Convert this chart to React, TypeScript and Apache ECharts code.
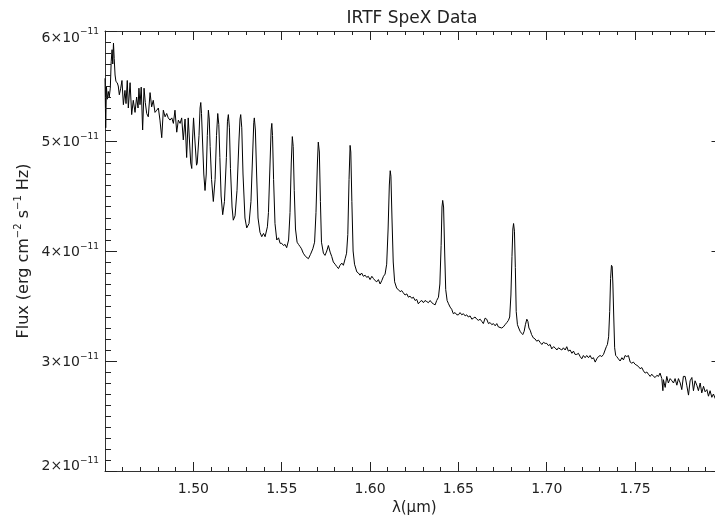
import React, { useEffect, useRef } from "react";
import * as echarts from "echarts";

// Wavelength in micrometres
const wavelengthUm = [
  1.4500, 1.4504, 1.4508, 1.4513, 1.4519, 1.4524, 1.4530, 1.4535, 1.4540, 1.4544,
  1.4548, 1.4552, 1.4557, 1.4562, 1.4569, 1.4575, 1.4581, 1.4589, 1.4596, 1.4604,
  1.4613, 1.4619, 1.4626, 1.4632, 1.4642, 1.4651, 1.4660, 1.4670, 1.4679, 1.4687,
  1.4692, 1.4698, 1.4705, 1.4713, 1.4721, 1.4728, 1.4736, 1.4745, 1.4755, 1.4764,
  1.4773, 1.4783, 1.4793, 1.4802, 1.4811, 1.4821, 1.4830, 1.4840, 1.4849, 1.4858,
  1.4868, 1.4878, 1.4887, 1.4896, 1.4906, 1.4915, 1.4925, 1.4934, 1.4943, 1.4953,
  1.4962, 1.4971, 1.4985, 1.4991, 1.4995, 1.5001, 1.5009, 1.5018, 1.5022, 1.5032,
  1.5038, 1.5042, 1.5046, 1.5052, 1.5059, 1.5066, 1.5073, 1.5079, 1.5085, 1.5090,
  1.5095, 1.5103, 1.5113, 1.5123, 1.5131, 1.5138, 1.5144, 1.5150, 1.5157, 1.5166,
  1.5176, 1.5187, 1.5193, 1.5198, 1.5204, 1.5210, 1.5219, 1.5226, 1.5236, 1.5247,
  1.5258, 1.5264, 1.5268, 1.5274, 1.5281, 1.5292, 1.5302, 1.5315, 1.5326, 1.5336,
  1.5342, 1.5345, 1.5351, 1.5358, 1.5366, 1.5377, 1.5387, 1.5397, 1.5406, 1.5419,
  1.5425, 1.5434, 1.5440, 1.5444, 1.5448, 1.5454, 1.5462, 1.5472, 1.5482, 1.5491,
  1.5500, 1.5510, 1.5519, 1.5528, 1.5539, 1.5547, 1.5554, 1.5560, 1.5565, 1.5571,
  1.5578, 1.5587, 1.5595, 1.5604, 1.5612, 1.5622, 1.5635, 1.5651, 1.5663, 1.5676,
  1.5686, 1.5694, 1.5702, 1.5707, 1.5713, 1.5719, 1.5725, 1.5736, 1.5745, 1.5755,
  1.5764, 1.5774, 1.5783, 1.5792, 1.5802, 1.5811, 1.5821, 1.5830, 1.5840, 1.5849,
  1.5859, 1.5867, 1.5874, 1.5881, 1.5887, 1.5891, 1.5897, 1.5904, 1.5912, 1.5925,
  1.5934, 1.5943, 1.5952, 1.5962, 1.5972, 1.5981, 1.5990, 1.6000, 1.6010, 1.6019,
  1.6029, 1.6038, 1.6047, 1.6057, 1.6066, 1.6076, 1.6085, 1.6094, 1.6102, 1.6109,
  1.6114, 1.6118, 1.6124, 1.6131, 1.6139, 1.6151, 1.6160, 1.6170, 1.6179, 1.6188,
  1.6198, 1.6208, 1.6217, 1.6226, 1.6236, 1.6245, 1.6255, 1.6264, 1.6273, 1.6283,
  1.6293, 1.6302, 1.6311, 1.6321, 1.6330, 1.6340, 1.6349, 1.6358, 1.6368, 1.6377,
  1.6387, 1.6395, 1.6402, 1.6407, 1.6411, 1.6416, 1.6422, 1.6428, 1.6436, 1.6444,
  1.6453, 1.6462, 1.6471, 1.6481, 1.6491, 1.6500, 1.6509, 1.6519, 1.6528, 1.6538,
  1.6547, 1.6556, 1.6566, 1.6576, 1.6585, 1.6594, 1.6604, 1.6613, 1.6623, 1.6632,
  1.6641, 1.6651, 1.6660, 1.6670, 1.6679, 1.6689, 1.6698, 1.6708, 1.6717, 1.6726,
  1.6745, 1.6754, 1.6764, 1.6774, 1.6783, 1.6790, 1.6797, 1.6803, 1.6808, 1.6812,
  1.6817, 1.6822, 1.6827, 1.6834, 1.6841, 1.6849, 1.6858, 1.6864, 1.6872, 1.6879,
  1.6887, 1.6893, 1.6899, 1.6906, 1.6914, 1.6924, 1.6934, 1.6943, 1.6953, 1.6962,
  1.6972, 1.6981, 1.6991, 1.7000, 1.7009, 1.7019, 1.7028, 1.7038, 1.7047, 1.7057,
  1.7066, 1.7075, 1.7085, 1.7094, 1.7104, 1.7113, 1.7122, 1.7132, 1.7142, 1.7151,
  1.7160, 1.7170, 1.7179, 1.7189, 1.7198, 1.7207, 1.7217, 1.7226, 1.7236, 1.7245,
  1.7255, 1.7264, 1.7274, 1.7283, 1.7292, 1.7302, 1.7311, 1.7321, 1.7330, 1.7337,
  1.7343, 1.7350, 1.7356, 1.7361, 1.7366, 1.7370, 1.7374, 1.7379, 1.7384, 1.7390,
  1.7396, 1.7405, 1.7415, 1.7425, 1.7434, 1.7443, 1.7453, 1.7462, 1.7472, 1.7481,
  1.7490, 1.7500, 1.7510, 1.7519, 1.7528, 1.7538, 1.7547, 1.7557, 1.7566, 1.7575,
  1.7585, 1.7594, 1.7604, 1.7613, 1.7623, 1.7632, 1.7641, 1.7651, 1.7657, 1.7660,
  1.7670, 1.7679, 1.7688, 1.7698, 1.7708, 1.7717, 1.7726, 1.7736, 1.7745, 1.7755,
  1.7764, 1.7773, 1.7783, 1.7792, 1.7802, 1.7811, 1.7821, 1.7830, 1.7839, 1.7849,
  1.7858, 1.7868, 1.7877, 1.7887, 1.7896, 1.7906, 1.7915, 1.7924, 1.7934, 1.7943,
  1.7953, 1.7964, 1.7975, 1.7987, 1.8000,
];

// Flux in units of 1e-11 erg cm^-2 s^-1 Hz^-1
const fluxE11 = [
  5.57, 5.12, 5.50, 5.38, 5.45, 5.40, 5.48, 5.72, 5.83, 5.70,
  5.89, 5.75, 5.60, 5.54, 5.53, 5.50, 5.42, 5.48, 5.55, 5.33,
  5.46, 5.34, 5.55, 5.30, 5.53, 5.24, 5.37, 5.26, 5.40, 5.30,
  5.48, 5.33, 5.49, 5.10, 5.48, 5.35, 5.25, 5.22, 5.44, 5.31,
  5.37, 5.26, 5.28, 5.30, 5.19, 5.03, 5.28, 5.22, 5.25, 5.21,
  5.19, 5.21, 5.16, 5.28, 5.08, 5.19, 5.16, 5.21, 5.01, 5.20,
  4.85, 5.21, 4.80, 4.75, 5.00, 5.21, 5.00, 4.78, 4.80, 5.05,
  5.30, 5.35, 5.25, 5.00, 4.70, 4.55, 4.70, 5.05, 5.28, 5.20,
  4.95, 4.65, 4.45, 4.65, 5.05, 5.25, 5.15, 4.85, 4.50, 4.33,
  4.45, 4.85, 5.18, 5.24, 5.12, 4.75, 4.40, 4.28, 4.32, 4.55,
  5.00, 5.20, 5.24, 5.12, 4.70, 4.30, 4.21, 4.25, 4.45, 4.90,
  5.17, 5.21, 5.10, 4.70, 4.30, 4.17, 4.13, 4.16, 4.13, 4.22,
  4.35, 4.80, 5.10, 5.16, 5.05, 4.65, 4.25, 4.10, 4.12, 4.07,
  4.07, 4.05, 4.06, 4.03, 4.10, 4.35, 4.80, 5.04, 4.95, 4.55,
  4.20, 4.08, 4.06, 4.04, 4.02, 3.98, 3.95, 3.93, 3.97, 4.02,
  4.08, 4.35, 4.80, 4.99, 4.90, 4.45, 4.08, 3.98, 3.96, 4.00,
  4.05, 3.99, 3.95, 3.90, 3.88, 3.86, 3.84, 3.87, 3.89, 3.87,
  3.93, 3.98, 4.15, 4.65, 4.96, 4.90, 4.45, 4.00, 3.88, 3.81,
  3.80, 3.78, 3.80, 3.77, 3.78, 3.76, 3.77, 3.74, 3.77, 3.75,
  3.73, 3.72, 3.74, 3.70, 3.73, 3.77, 3.79, 3.88, 4.20, 4.60,
  4.73, 4.68, 4.30, 3.90, 3.72, 3.66, 3.65, 3.63, 3.64, 3.62,
  3.60, 3.61, 3.58, 3.59, 3.57, 3.58, 3.55, 3.56, 3.52, 3.54,
  3.55, 3.53, 3.55, 3.54, 3.53, 3.55, 3.53, 3.52, 3.51, 3.55,
  3.58, 3.70, 4.05, 4.40, 4.46, 4.40, 4.00, 3.65, 3.55, 3.52,
  3.49, 3.47, 3.43, 3.44, 3.42, 3.42, 3.44, 3.42, 3.43, 3.41,
  3.42, 3.40, 3.41, 3.38, 3.39, 3.40, 3.38, 3.37, 3.38, 3.36,
  3.34, 3.39, 3.38, 3.34, 3.35, 3.33, 3.34, 3.32, 3.34, 3.31,
  3.30, 3.31, 3.33, 3.35, 3.37, 3.40, 3.60, 3.95, 4.20, 4.25,
  4.18, 3.85, 3.45, 3.33, 3.30, 3.27, 3.25, 3.24, 3.27, 3.33,
  3.38, 3.36, 3.30, 3.28, 3.24, 3.21, 3.20, 3.18, 3.19, 3.17,
  3.15, 3.17, 3.16, 3.16, 3.14, 3.15, 3.11, 3.13, 3.12, 3.10,
  3.12, 3.11, 3.10, 3.12, 3.10, 3.13, 3.09, 3.10, 3.07, 3.09,
  3.06, 3.06, 3.07, 3.04, 3.02, 3.05, 3.03, 3.05, 3.03, 3.05,
  3.02, 3.03, 2.99, 3.02, 3.04, 3.05, 3.04, 3.06, 3.10, 3.13,
  3.15, 3.22, 3.45, 3.75, 3.87, 3.86, 3.70, 3.40, 3.12, 3.05,
  3.04, 3.02, 3.00, 3.03, 3.01, 3.05, 3.04, 3.05, 2.99, 2.98,
  2.99, 2.97, 2.96, 2.95, 2.93, 2.94, 2.91, 2.89, 2.90, 2.88,
  2.86, 2.88, 2.86, 2.85, 2.87, 2.86, 2.89, 2.84, 2.73, 2.83,
  2.76, 2.86, 2.80, 2.84, 2.82, 2.80, 2.84, 2.78, 2.84, 2.80,
  2.74, 2.86, 2.86, 2.78, 2.69, 2.82, 2.85, 2.73, 2.82, 2.78,
  2.73, 2.80, 2.71, 2.77, 2.72, 2.74, 2.68, 2.73, 2.67, 2.70,
  2.66, 2.70, 2.67, 2.69, 2.65,
];

// Axis ticks
const xMajorTicks = [1.45, 1.5, 1.55, 1.6, 1.65, 1.7, 1.75, 1.8];
const yMajorTicks = [2, 3, 4, 5, 6];
const xMinorPerMajor = 5;
const yMinorPerMajor = 10;

const xMin = 1.45;
const xMax = 1.8;
const xStep = 0.05;
const yMin = 2;
const yMax = 6;
const yStep = 1;

const FONT = "DejaVu Sans";
const AXIS_COLOR = "#333";
const TICK_COLOR = "#222";
const TEXT_COLOR = "#222";

function xAxisBase() {
  return {
    type: "value",
    min: xMin,
    max: xMax,
    interval: xStep,
    axisLine: { show: true, onZero: false, lineStyle: { color: AXIS_COLOR, width: 1 } },
    axisTick: { show: false },
    minorTick: { show: false },
    splitLine: { show: false },
  };
}

function yAxisBase() {
  return {
    type: "value",
    min: yMin,
    max: yMax,
    interval: yStep,
    axisLine: { show: true, onZero: false, lineStyle: { color: AXIS_COLOR, width: 1 } },
    axisTick: { show: false },
    minorTick: { show: false },
    splitLine: { show: false },
  };
}

export default function App() {
  const ref = useRef<HTMLDivElement>(null);

  useEffect(() => {
    if (!ref.current) return;
    const chart = echarts.init(ref.current, null, { renderer: "svg" });

    const data = wavelengthUm.map((w, i) => [w, fluxE11[i]]);

    const sup = () => ({ fontSize: 9, fontFamily: FONT, color: TEXT_COLOR });
    const main = () => ({ fontSize: 14, fontFamily: FONT, color: TEXT_COLOR });

    // Tick marks of the frame, placed through the axes' own scales
    const renderTicks = (_params: any, api: any) => {
      const children: any[] = [];
      const [xl, yb] = api.coord([xMin, yMin]);
      const [xr, yt] = api.coord([xMax, yMax]);
      const crisp = (v: number) => Math.round(v - 0.5) + 0.5;
      const line = (x1: number, y1: number, x2: number, y2: number) => ({
        type: "line",
        shape: { x1, y1, x2, y2 },
        style: { stroke: TICK_COLOR, lineWidth: 1 },
        silent: true,
      });
      const addX = (v: number, len: number) => {
        const px = crisp(api.coord([v, yMin])[0]);
        children.push(line(px, yb, px, yb - len));
        children.push(line(px, yt, px, yt + len));
      };
      const addY = (v: number, len: number) => {
        const py = crisp(api.coord([xMin, v])[1]);
        children.push(line(xl, py, xl + len, py));
        children.push(line(xr, py, xr - len, py));
      };
      xMajorTicks.forEach((v, i) => {
        addX(v, 9);
        const next = xMajorTicks[i + 1];
        if (next !== undefined) {
          for (let k = 1; k < xMinorPerMajor; k++) addX(v + ((next - v) * k) / xMinorPerMajor, 4);
        }
      });
      yMajorTicks.forEach((v, i) => {
        addY(v, 12);
        const next = yMajorTicks[i + 1];
        if (next !== undefined) {
          for (let k = 1; k < yMinorPerMajor; k++) addY(v + ((next - v) * k) / yMinorPerMajor, 6);
        }
      });
      return { type: "group", children };
    };

    chart.setOption({
      animation: false,
      title: {
        text: "IRTF SpeX Data",
        left: 407,
        top: 3,
        textAlign: "center",
        textStyle: { fontFamily: FONT, fontSize: 17, fontWeight: "normal", color: TEXT_COLOR },
      },
      grid: {
        left: 105,
        top: 31,
        width: 618.5,
        height: 440,
        containLabel: false,
        outerBoundsMode: "none",
      },
      xAxis: [
        {
          ...xAxisBase(),
          position: "bottom",
          axisLabel: {
            margin: 10,
            fontSize: 14,
            fontFamily: FONT,
            color: TEXT_COLOR,
            formatter: (v: number) =>
              v < xMin + xStep / 2 || v > xMax - xStep / 2 ? "" : v.toFixed(2),
          },
          name: "λ(μm)",
          nameLocation: "middle",
          nameGap: 26,
          nameTextStyle: { fontSize: 15, fontFamily: FONT, color: TEXT_COLOR },
        },
        {
          ...xAxisBase(),
          position: "top",
          axisLabel: { show: false },
        },
      ],
      yAxis: [
        {
          ...yAxisBase(),
          position: "left",
          axisLabel: {
            margin: 6,
            align: "right",
            formatter: (v: number) => {
              const n = Math.round(v);
              const k = n === yMax ? "T" : n === yMin ? "B" : "";
              return `{m${k}|${n}×10}{s${k}|−11}`;
            },
            rich: {
              m: { ...main() },
              s: { ...sup(), padding: [0, 0, 11, 0] },
              mT: { ...main(), padding: [11, 0, 0, 0] },
              sT: { ...sup(), padding: [11, 0, 11, 0] },
              mB: { ...main(), padding: [0, 0, 12, 0] },
              sB: { ...sup(), padding: [0, 0, 23, 0] },
            },
          },
          name: "{n|Flux (erg cm}{s|−2}{n| s}{s|−1}{n| Hz)}",
          nameLocation: "middle",
          nameGap: 61,
          nameTextStyle: {
            rich: {
              n: { fontSize: 16, fontFamily: FONT, color: TEXT_COLOR },
              s: { fontSize: 10, fontFamily: FONT, color: TEXT_COLOR, padding: [0, 0, 11, 0] },
            },
          },
        },
        {
          ...yAxisBase(),
          position: "right",
          axisLabel: { show: false },
        },
      ],
      series: [
        {
          type: "line",
          xAxisIndex: 0,
          yAxisIndex: 0,
          data,
          showSymbol: false,
          symbol: "none",
          lineStyle: { color: "#000", width: 1 },
          smooth: false,
        },
        {
          type: "custom",
          xAxisIndex: 0,
          yAxisIndex: 0,
          data: [[xMin, yMin]],
          renderItem: renderTicks,
          clip: false,
          silent: true,
          z: 10,
        },
      ],
    });

    return () => chart.dispose();
  }, []);

  return <div ref={ref} style={{ position: "fixed", left: 0, top: 0, width: 715, height: 522 }} />;
}
